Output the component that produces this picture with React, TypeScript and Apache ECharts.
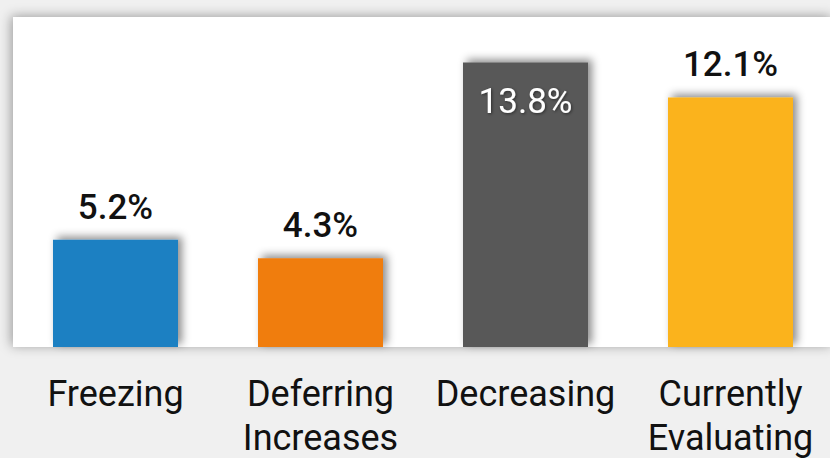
import React, { useEffect, useRef } from "react";
import * as echarts from "echarts";

const categories = ["Freezing", "Deferring\nIncreases", "Decreasing", "Currently\nEvaluating"];
const values = [5.2, 4.3, 13.8, 12.1];
const barColors = ["#1b80c2", "#f07d0a", "#595959", "#fbb31b"];
const insideLabel = [false, false, true, false];

export default function App() {
  const ref = useRef<HTMLDivElement>(null);

  useEffect(() => {
    if (!ref.current) return;
    const chart = echarts.init(ref.current, undefined, { renderer: "svg" });
    const font = "Roboto, 'Noto Sans', sans-serif";

    chart.setOption({
      animation: false,
      backgroundColor: "#f0f0f0",
      grid: {
        left: 13,
        top: 17,
        width: 820,
        bottom: 111,
        outerBoundsMode: "none",
        containLabel: false,
        show: true,
        backgroundColor: "#ffffff",
        borderWidth: 0,
        shadowBlur: 12,
        shadowColor: "rgba(0,0,0,0.35)",
        shadowOffsetX: -2,
        shadowOffsetY: -1,
      },
      xAxis: {
        type: "category",
        data: categories,
        axisLine: { show: false },
        axisTick: { show: false },
        axisLabel: {
          interval: 0,
          color: "#111111",
          fontFamily: font,
          fontSize: 36,
          lineHeight: 44,
          margin: 25,
          verticalAlign: "top",
        },
      },
      yAxis: {
        type: "value",
        min: 0,
        max: 16,
        show: false,
        splitLine: { show: false },
      },
      series: [
        {
          type: "bar",
          barWidth: 125,
          data: values.map((v, i) => ({
            value: v,
            itemStyle: {
              color: barColors[i],
              shadowBlur: 8,
              shadowColor: "rgba(0,0,0,0.45)",
              shadowOffsetX: 4,
              shadowOffsetY: -3,
            },
            label: insideLabel[i]
              ? {
                  position: "insideTop",
                  distance: 22,
                  color: "#ffffff",
                  fontWeight: 400,
                  textShadowColor: "rgba(0,0,0,0.5)",
                  textShadowBlur: 3,
                  textShadowOffsetX: 1,
                  textShadowOffsetY: 1,
                }
              : { position: "top", distance: 15, color: "#111111" },
          })),
          label: {
            show: true,
            fontFamily: font,
            fontSize: 35,
            fontWeight: 500,
            formatter: (p: any) => `${p.value}%`,
          },
        },
      ],
    });

    return () => chart.dispose();
  }, []);

  return (
    <div
      ref={ref}
      style={{ position: "fixed", left: 0, top: 0, width: 830, height: 458 }}
    />
  );
}
